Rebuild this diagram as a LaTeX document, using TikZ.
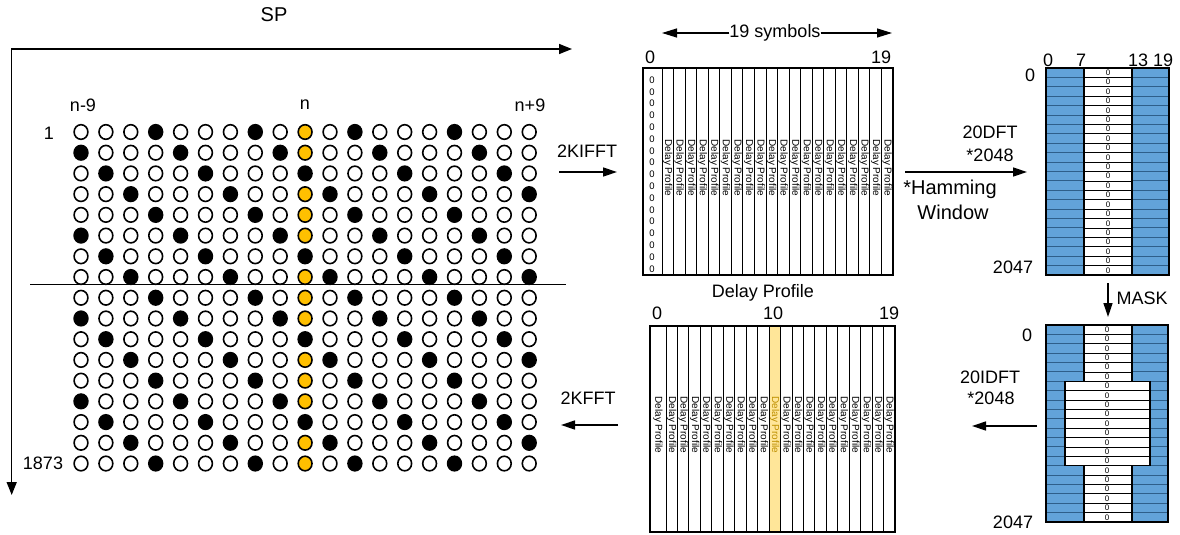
\documentclass[tikz,border=0pt]{standalone}
\usepackage{fontspec}
\setmainfont{Liberation Sans}
\usetikzlibrary{arrows.meta,shapes.geometric}
\definecolor{gold}{HTML}{FFC000}
\definecolor{paleyel}{HTML}{FFE699}
\definecolor{darkyel}{HTML}{BF9000}
\definecolor{cellblue}{HTML}{62A3D9}
\definecolor{lineblue}{HTML}{2E5F8A}
\tikzset{
  lbl/.style={font=\fontsize{18}{20}\selectfont, inner sep=0pt},
  big/.style={font=\fontsize{20}{22}\selectfont, inner sep=0pt},
  dpf/.style={font=\fontsize{10}{10}\selectfont, rotate=-90, inner sep=0pt},
  zr/.style={font=\fontsize{8}{8}\selectfont, inner sep=0pt},
  zrb/.style={font=\fontsize{9.5}{9.5}\selectfont, inner sep=0pt},
  dotbase/.style={ellipse, draw=black, line width=1.6pt, inner sep=0pt, minimum width=13.8pt, minimum height=14.6pt},
  dotw/.style={dotbase, fill=white},
  dotb/.style={dotbase, fill=black},
  doty/.style={dotbase, fill=gold},
  flow/.style={line width=1.4pt, -{Triangle[length=14pt,width=9pt]}},
  strip/.style={line width=0.9pt},
  boxline/.style={line width=1.1pt},
}
\begin{document}
\begin{tikzpicture}[x=1pt,y=-1pt]
\useasboundingbox (0,0) rectangle (1180,535);

% ---------- axes ----------
\coordinate (origin) at (11.7,49);
\coordinate (xend) at (572,49);
\coordinate (yend) at (11.7,495);
\draw[line width=1.5pt, {Triangle[length=13pt,width=10pt]}-{Triangle[length=13pt,width=10pt]}] (yend) -- (origin) -- (xend);
\node[big] (sp) at (274,15) {SP};

% ---------- dot grid ----------
\node[lbl] (lnm9) at (83,105) {n-9};
\node[lbl] (ln) at (305,105) {n};
\node[lbl] (lnp9) at (530,105) {n+9};
\node[lbl] (lone) at (49,133) {1};
\node[lbl] (llast) at (43,463) {1873};
\foreach \r in {0,...,16}{
  \foreach \c in {0,...,18}{
    \pgfmathtruncatemacro{\m}{mod(\c-\r+37,4)}
    \ifnum\m=0 \def\sty{dotb}\else\ifnum\c=9 \def\sty{doty}\else\def\sty{dotw}\fi\fi
    \node[\sty] (d\r-\c) at ({81+24.9*\c},{132+20.72*\r}) {};
  }
}
\coordinate (sepl) at (30,284);
\coordinate (sepr) at (566,284);
\draw[line width=1pt] (sepl) -- (sepr);

% ---------- 2KIFFT ----------
\node[lbl] (kifft) at (587,151) {2KIFFT};
\coordinate (a1s) at (559,172);
\coordinate (a1e) at (617,172);
\draw[flow] (a1s) -- (a1e);

% ---------- top middle box ----------
\node[lbl] (sym) at (775,33) {19 symbols};
\coordinate (syml) at (662,33);
\coordinate (symr) at (892,33);
\draw[line width=1.2pt, -{Triangle[length=15pt,width=9pt]}] (sym.west) -- (syml);
\draw[line width=1.2pt, -{Triangle[length=15pt,width=9pt]}] (sym.east) -- (symr);
\node[lbl] (t0) at (650,57) {0};
\node[lbl] (t19) at (881,57) {19};
\draw[boxline] (643,68) rectangle (893,275);
\foreach \k in {0,...,19}{
  \draw[strip] ({662+11.55*\k},68) -- ({662+11.55*\k},275);
  \node[dpf] at ({662+11.55*(\k+0.5)},168) {Delay Profile};
}
\foreach \i in {0,...,16}{
  \node[zrb] at (652,{80+11.8*\i}) {0};
}

% ---------- 20DFT ----------
\node[lbl] (dft1) at (990,132) {20DFT};
\node[lbl] (dft2) at (990,155) {*2048};
\node[big] (ham1) at (950,189) {*Hamming};
\node[big] (ham2) at (953,212) {Window};
\coordinate (a2s) at (905,172);
\coordinate (a2e) at (1027,172);
\draw[flow] (a2s) -- (a2e);

% ---------- top right box ----------
\node[lbl] (r0) at (1048,60) {0};
\node[lbl] (r7) at (1081,60) {7};
\node[lbl] (r13) at (1138,60) {13};
\node[lbl] (r19) at (1163,60) {19};
\node[lbl] (rl0) at (1030,75) {0};
\node[lbl] (rl2047) at (1013,267) {2047};
\fill[cellblue] (1046,68) rectangle (1084,275);
\fill[cellblue] (1132,68) rectangle (1169,275);
\foreach \i in {1,...,21}{
  \draw[lineblue, line width=1pt] (1046,{68+9.41*\i}) -- (1084,{68+9.41*\i});
  \draw[lineblue, line width=1pt] (1132,{68+9.41*\i}) -- (1169,{68+9.41*\i});
  \draw[black, line width=0.8pt] (1084,{68+9.41*\i}) -- (1132,{68+9.41*\i});
}
\foreach \i in {0,...,21}{
  \node[zr] at (1108,{68+9.41*(\i+0.5)}) {0};
}
\draw[boxline] (1046,68) rectangle (1169,275);
\draw[boxline] (1084,68) -- (1084,275) (1132,68) -- (1132,275);

% ---------- MASK ----------
\coordinate (ms) at (1108,283);
\coordinate (me) at (1108,317);
\draw[flow] (ms) -- (me);
\node[lbl] (mask) at (1142,298) {MASK};

% ---------- bottom right box ----------
\node[lbl] (b0) at (1027,335) {0};
\node[lbl] (b2047) at (1013,522) {2047};
\fill[cellblue] (1046,325) rectangle (1084,381.3);
\fill[cellblue] (1132,325) rectangle (1168,381.3);
\fill[cellblue] (1046,381.3) rectangle (1065,465.7);
\fill[cellblue] (1150,381.3) rectangle (1168,465.7);
\fill[cellblue] (1046,465.7) rectangle (1084,522);
\fill[cellblue] (1132,465.7) rectangle (1168,522);
\foreach \i in {1,...,20}{
  \pgfmathsetmacro{\yy}{325+9.38*\i}
  \ifnum\i<6
    \draw[lineblue, line width=1pt] (1046,\yy) -- (1084,\yy) (1132,\yy) -- (1168,\yy);
    \draw[black, line width=0.8pt] (1084,\yy) -- (1132,\yy);
  \else\ifnum\i<15
    \draw[lineblue, line width=1pt] (1046,\yy) -- (1065,\yy) (1150,\yy) -- (1168,\yy);
    \draw[black, line width=0.8pt] (1065,\yy) -- (1150,\yy);
  \else
    \draw[lineblue, line width=1pt] (1046,\yy) -- (1084,\yy) (1132,\yy) -- (1168,\yy);
    \draw[black, line width=0.8pt] (1084,\yy) -- (1132,\yy);
  \fi\fi
}
\foreach \i in {0,...,20}{
  \node[zr] at (1107,{325+9.38*(\i+0.5)}) {0};
}
\draw[boxline] (1046,325) rectangle (1168,522);
\draw[boxline] (1084,325) -- (1132,325) -- (1132,381.3) -- (1150,381.3) -- (1150,465.7) -- (1132,465.7) -- (1132,522) -- (1084,522) -- (1084,465.7) -- (1065,465.7) -- (1065,381.3) -- (1084,381.3) -- cycle;

% ---------- 20IDFT ----------
\node[lbl] (idft1) at (990,377) {20IDFT};
\node[lbl] (idft2) at (991,398) {*2048};
\coordinate (a3s) at (1037,426);
\coordinate (a3e) at (972,426);
\draw[flow] (a3s) -- (a3e);

% ---------- bottom middle box ----------
\node[lbl] (dpl) at (763,293) {Delay Profile};
\node[lbl] (m0) at (657,313) {0};
\node[lbl] (m10) at (773,313) {10};
\node[lbl] (m19) at (889,313) {19};
\fill[paleyel] ({666+11.45*9},326) rectangle ({666+11.45*10},532);
\draw[boxline] (650,326) rectangle (895,532);
\foreach \k in {0,...,19}{
  \draw[strip] ({666+11.45*\k},326) -- ({666+11.45*\k},532);
}
\node[dpf] at (658,425) {Delay Profile};
\foreach \k in {0,...,19}{
  \ifnum\k=9
    \node[dpf, text=darkyel] at ({666+11.45*(\k+0.5)},425) {Delay Profile};
  \else
    \node[dpf] at ({666+11.45*(\k+0.5)},425) {Delay Profile};
  \fi
}

% ---------- 2KFFT ----------
\node[lbl] (kfft) at (588,398) {2KFFT};
\coordinate (a4s) at (618,425);
\coordinate (a4e) at (561,425);
\draw[flow] (a4s) -- (a4e);
\end{tikzpicture}
\end{document}
